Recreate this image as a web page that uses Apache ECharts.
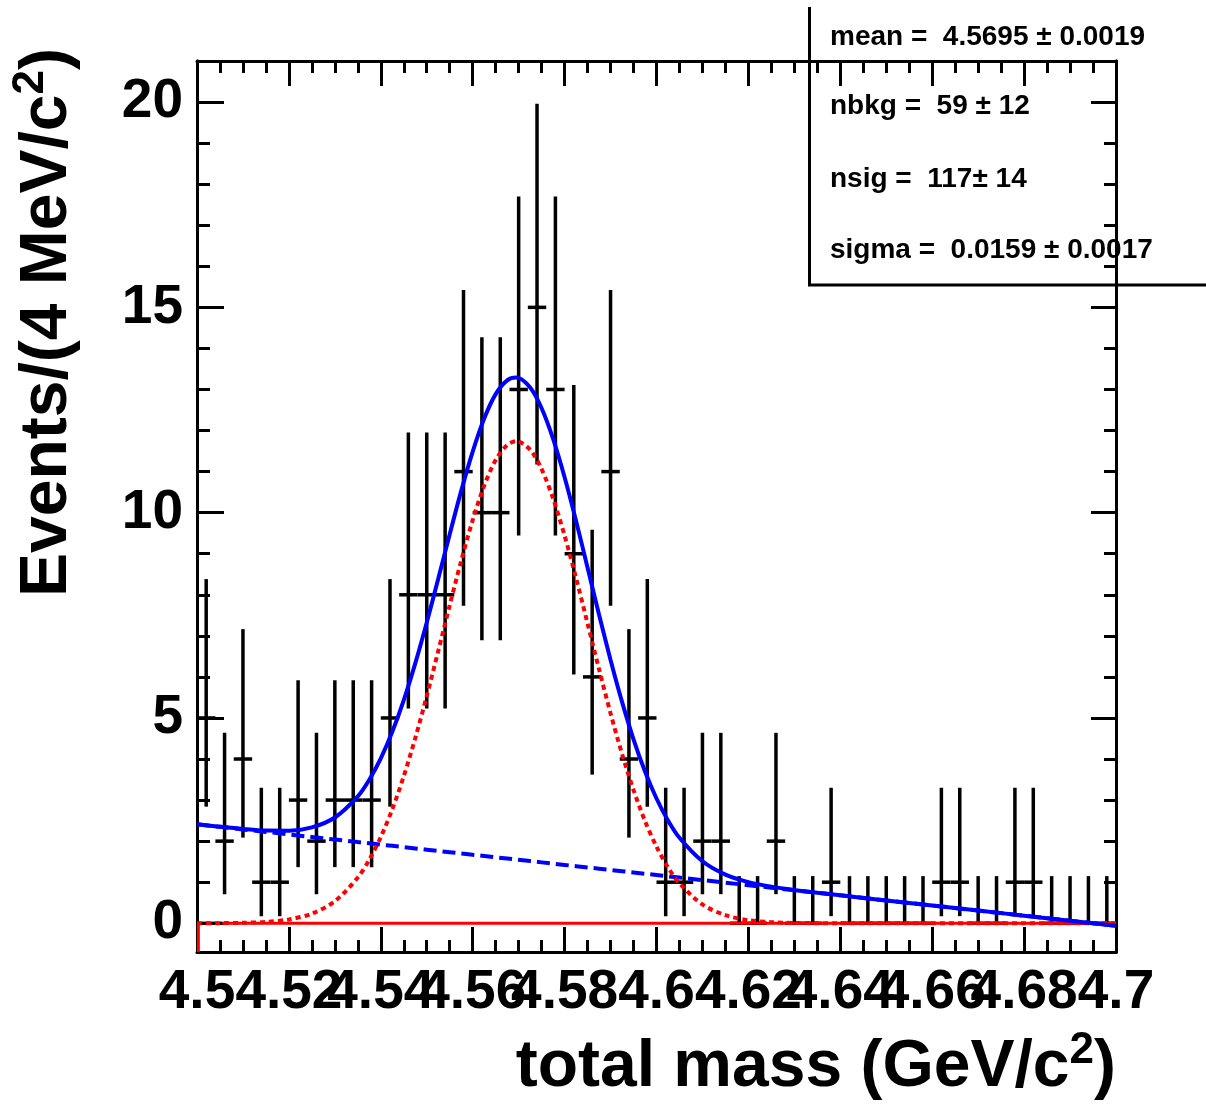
<!DOCTYPE html>
<html>
<head>
<meta charset="utf-8">
<script src="https://cdn.jsdelivr.net/npm/echarts@6/dist/echarts.min.js"></script>
<style>
  html, body { margin: 0; padding: 0; background: #fff; }
  #chart { width: 1206px; height: 1104px; }
</style>
</head>
<body>
<div id="chart"></div>
<script>
// ---------------- data ----------------
const binCenters = [
  4.502, 4.506, 4.510, 4.514, 4.518, 4.522, 4.526, 4.530, 4.534, 4.538,
  4.542, 4.546, 4.550, 4.554, 4.558, 4.562, 4.566, 4.570, 4.574, 4.578,
  4.582, 4.586, 4.590, 4.594, 4.598, 4.602, 4.606, 4.610, 4.614, 4.618,
  4.622, 4.626, 4.630, 4.634, 4.638, 4.642, 4.646, 4.650, 4.654, 4.658,
  4.662, 4.666, 4.670, 4.674, 4.678, 4.682, 4.686, 4.690, 4.694, 4.698
];
const counts = [
  5, 2, 4, 1, 1, 3, 2, 3, 3, 3,
  5, 8, 8, 8, 11, 10, 10, 13, 15, 13,
  9, 6, 11, 4, 5, 1, 1, 2, 2, 0,
  0, 2, 0, 0, 1, 0, 0, 0, 0, 0,
  1, 1, 0, 0, 1, 1, 0, 0, 0, 0
];
// Poisson error-bar ends, indexed by count
const poisLo = [0, 0.173, 0.708, 1.367, 2.086, 2.840, 3.620, 4.419, 5.232, 6.057, 6.891, 7.734, 8.585, 9.441, 10.30, 11.17];
const poisHi = [1.148, 3.300, 4.638, 5.918, 7.163, 8.382, 9.584, 10.77, 11.95, 13.11, 14.27, 15.42, 16.56, 17.70, 18.83, 19.96];
const binHalfWidth = 0.002;

// fitted curves (values per 4 MeV bin)
const curveX = [4.500, 4.505, 4.510, 4.515, 4.520, 4.525, 4.530, 4.535, 4.5375, 4.540,
  4.5425, 4.545, 4.5475, 4.550, 4.5525, 4.555, 4.5575, 4.560, 4.5625, 4.565,
  4.5675, 4.5695, 4.5725, 4.575, 4.5775, 4.580, 4.5825, 4.585, 4.5875, 4.590,
  4.5925, 4.595, 4.5975, 4.600, 4.6025, 4.605, 4.610, 4.615, 4.620, 4.625,
  4.630, 4.635, 4.640, 4.650, 4.660, 4.670, 4.680, 4.690, 4.700];
const sigY = [0.001, 0.003, 0.011, 0.033, 0.092, 0.234, 0.537, 1.115, 1.549, 2.100,
  2.777, 3.582, 4.508, 5.534, 6.629, 7.746, 8.831, 9.820, 10.655, 11.28,
  11.647, 11.74, 11.533, 11.06, 10.344, 9.440, 8.405, 7.300, 6.186, 5.114,
  4.124, 3.245, 2.490, 1.865, 1.362, 0.971, 0.458, 0.196, 0.076, 0.027,
  0.008, 0.002, 0, 0, 0, 0, 0, 0, 0];
const bkgY = [2.410, 2.348, 2.286, 2.225, 2.163, 2.101, 2.039, 1.977, 1.947, 1.916,
  1.885, 1.854, 1.823, 1.792, 1.761, 1.730, 1.699, 1.668, 1.638, 1.607,
  1.576, 1.551, 1.514, 1.483, 1.452, 1.421, 1.390, 1.359, 1.329, 1.298,
  1.267, 1.236, 1.205, 1.174, 1.143, 1.112, 1.051, 0.989, 0.927, 0.865,
  0.803, 0.742, 0.680, 0.556, 0.433, 0.309, 0.185, 0.062, -0.062];
const totY = [2.411, 2.351, 2.297, 2.258, 2.255, 2.335, 2.576, 3.092, 3.496, 4.016,
  4.662, 5.436, 6.331, 7.326, 8.390, 9.476, 10.530, 11.488, 12.293, 12.887,
  13.223, 13.291, 13.047, 12.543, 11.796, 10.861, 9.795, 8.659, 7.515, 6.412,
  5.391, 4.481, 3.695, 3.039, 2.505, 2.083, 1.509, 1.185, 1.003, 0.892,
  0.811, 0.744, 0.680, 0.556, 0.433, 0.309, 0.185, 0.062, -0.062];
const zeroLineX = [4.5003, 4.5003, 4.5055, 4.700];
const zeroLineY = [-0.7, 0, 0, 0];
const blackStubX = [4.500, 4.5055];
const blackStubY = [0, 0];

const yMajor = [0, 5, 10, 15, 20];
const yMinor = [1, 2, 3, 4, 6, 7, 8, 9, 11, 12, 13, 14, 16, 17, 18, 19];

const statLines = [
  'mean =  4.5695 \u00b1 0.0019',
  'nbkg =  59 \u00b1 12',
  'nsig =  117\u00b1 14',
  'sigma =  0.0159 \u00b1 0.0017'
];
const xTitle = '{a|total mass (GeV/c}{s|2}{a|)}';
const yTitle = '{a|Events/(4 MeV/c}{s|2}{a|)}';

// ---------------- chart ----------------
const FONT = '"Liberation Sans", Arial, Helvetica, sans-serif';
const zip = (xs, ys) => xs.map((x, i) => [x, ys[i]]);
const errData = binCenters.map((x, i) => [x, counts[i], poisLo[counts[i]], poisHi[counts[i]]]);

const YMIN = -0.7, YMAX = 21;
const tickStyle = { color: '#000', width: 3 };
const axisLineStyle = { show: true, onZero: false, lineStyle: { color: '#000', width: 3 } };

function xAx(pos, showLabel) {
  return {
    type: 'value', position: pos, min: 4.5, max: 4.7, interval: 0.02,
    axisLine: axisLineStyle,
    axisTick: { show: true, inside: true, length: 25, lineStyle: tickStyle },
    minorTick: { show: true, splitNumber: 4, length: 12, lineStyle: tickStyle },
    splitLine: { show: false }, minorSplitLine: { show: false },
    axisLabel: {
      show: showLabel, fontSize: 55, fontWeight: 'bold', fontFamily: FONT, color: '#000',
      margin: 13, showMinLabel: true, showMaxLabel: true, hideOverlap: false,
      formatter: v => String(+(+v).toFixed(3))
    }
  };
}
function yAx(pos, ticks, len, showLabel) {
  return {
    type: 'value', position: pos, min: YMIN, max: YMAX,
    axisLine: axisLineStyle,
    axisTick: { show: true, inside: true, length: len, customValues: ticks, lineStyle: tickStyle },
    splitLine: { show: false },
    axisLabel: {
      show: showLabel, customValues: ticks, fontSize: 55, fontWeight: 'bold', fontFamily: FONT,
      color: '#000', margin: 14
    }
  };
}

const richTitle = {
  a: { fontSize: 66, fontWeight: 'bold', fontFamily: FONT, lineHeight: 78, fill: '#000', color: '#000' },
  s: { fontSize: 44, fontWeight: 'bold', fontFamily: FONT, lineHeight: 44, verticalAlign: 'top', fill: '#000', color: '#000' }
};

const statY = [37, 106, 179, 250];

const option = {
  animation: false,
  backgroundColor: '#fff',
  grid: { left: 197, right: 90, top: 61, bottom: 152, containLabel: false, outerBoundsMode: 'none' },
  xAxis: [xAx('bottom', true), xAx('top', false)],
  yAxis: [
    yAx('left', yMajor, 27, true),
    yAx('left', yMinor, 13, false),
    yAx('right', yMajor, 25, false),
    yAx('right', yMinor, 12, false)
  ],
  graphic: [
    {
      type: 'text', x: 1116, y: 1068, z: 10,
      style: { text: xTitle, rich: richTitle, align: 'right', verticalAlign: 'middle', fill: '#000' }
    },
    {
      type: 'text', x: 48, y: 48, rotation: Math.PI / 2, z: 10,
      style: { text: yTitle, rich: richTitle, align: 'right', verticalAlign: 'middle', fill: '#000' }
    },
    {
      type: 'polyline', z: -1,
      shape: { points: [[809.5, 7], [809.5, 285], [1210, 285]] },
      style: { stroke: '#000', lineWidth: 3, fill: null }
    },
    ...statLines.map((t, i) => ({
      type: 'text', x: 830, y: statY[i], z: -1,
      style: { text: t, font: 'bold 28px ' + FONT, fill: '#000', align: 'left', verticalAlign: 'middle' }
    }))
  ],
  series: [
    {
      type: 'custom', xAxisIndex: 0, yAxisIndex: 0, z: 3,
      data: errData,
      encode: { x: 0, y: 1 },
      renderItem: function (params, api) {
        const x = api.value(0), y = api.value(1), lo = api.value(2), hi = api.value(3);
        const pL = api.coord([x - binHalfWidth, y]);
        const pR = api.coord([x + binHalfWidth, y]);
        const pT = api.coord([x, hi]);
        const pB = api.coord([x, lo]);
        return {
          type: 'group',
          children: [
            { type: 'line', shape: { x1: pL[0], y1: pL[1], x2: pR[0], y2: pR[1] }, style: { stroke: '#000', lineWidth: 3.5 } },
            { type: 'line', shape: { x1: pT[0], y1: pT[1], x2: pB[0], y2: pB[1] }, style: { stroke: '#000', lineWidth: 3.5 } }
          ]
        };
      }
    },
    {
      type: 'line', z: 4, data: zip(zeroLineX, zeroLineY), symbol: 'none',
      lineStyle: { color: '#ff0000', width: 3 }
    },
    {
      type: 'line', z: 5, data: zip(blackStubX, blackStubY), symbol: 'none',
      lineStyle: { color: '#000', width: 3 }
    },
    {
      type: 'line', z: 5, data: zip(curveX, bkgY), symbol: 'none',
      lineStyle: { color: '#0000ff', width: 4, type: [13, 6] }
    },
    {
      type: 'line', z: 6, data: zip(curveX, sigY), symbol: 'none', smooth: 0.3,
      lineStyle: { color: '#ff0000', width: 4, type: [5, 4] }
    },
    {
      type: 'line', z: 7, data: zip(curveX, totY), symbol: 'none', smooth: 0.3,
      lineStyle: { color: '#0000ff', width: 4 }
    }
  ]
};

const chart = echarts.init(document.getElementById('chart'), null, { renderer: 'canvas' });
chart.setOption(option);
</script>
</body>
</html>
